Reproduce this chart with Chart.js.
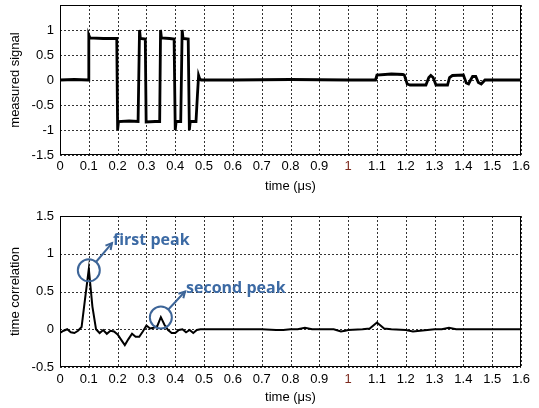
<!DOCTYPE html>
<html><head><meta charset="utf-8">
<script src="https://cdn.jsdelivr.net/npm/chart.js@4"></script>
<style>
html,body{margin:0;padding:0;background:#fff;width:539px;height:408px;overflow:hidden}
canvas{position:absolute;left:0}
#c1{top:0;width:539px;height:200px}
#c2{top:200px;width:539px;height:208px}
</style></head><body>
<canvas id="c1" width="539" height="200"></canvas>
<canvas id="c2" width="539" height="208"></canvas>
<script>
// ---------- data ----------
const xTicks = [0,0.1,0.2,0.3,0.4,0.5,0.6,0.7,0.8,0.9,1,1.1,1.2,1.3,1.4,1.5,1.6];
const xTickLabels = ['0','0.1','0.2','0.3','0.4','0.5','0.6','0.7','0.8','0.9','1','1.1','1.2','1.3','1.4','1.5','1.6'];
const yTopTicks = [-1.5,-1,-0.5,0,0.5,1];
const yTopLabels = ['-1.5','-1','-0.5','0','0.5','1'];
const yBotTicks = [-0.5,0,0.5,1,1.5];
const yBotLabels = ['-0.5','0','0.5','1','1.5'];

// measured signal: time (us) / value
const signalTime = [0,0.05,0.099,0.1,0.104,0.15,0.197,0.2,0.203,0.24,0.271,0.276,0.279,0.296,0.299,0.33,0.346,0.349,0.352,0.38,0.396,0.4,0.403,0.419,0.424,0.427,0.445,0.449,0.452,0.472,0.477,0.481,0.485,0.49,0.6,0.8,1.0,1.095,1.1,1.15,1.19,1.195,1.205,1.215,1.27,1.28,1.287,1.295,1.305,1.345,1.352,1.362,1.4,1.41,1.418,1.425,1.432,1.443,1.452,1.462,1.475,1.6];
const signalValue = [0,0.01,0,0.9,0.84,0.83,0.83,-1.0,-0.83,-0.82,-0.83,1.0,0.83,0.82,-0.84,-0.83,-0.83,1.0,0.84,0.83,0.82,-1.0,-0.83,-0.83,1.0,0.83,0.82,-1.0,-0.83,-0.83,-0.3,0.09,0.02,0,0,0.01,0,0,0.1,0.12,0.11,0.1,-0.08,-0.1,-0.1,0.05,0.09,0.05,-0.1,-0.1,0.05,0.09,0.1,-0.06,-0.08,0.0,0.07,0.07,-0.05,-0.08,0.0,0];

// time correlation: time (us) / value
const corrTime = [0,0.0125,0.025,0.0375,0.05,0.0625,0.075,0.0875,0.1,0.1125,0.125,0.1375,0.15,0.1625,0.175,0.1875,0.2,0.2125,0.225,0.2375,0.25,0.2625,0.275,0.2875,0.3,0.3125,0.325,0.3375,0.35,0.3625,0.375,0.3875,0.4,0.4125,0.425,0.4375,0.45,0.4625,0.475,0.4875,0.5,0.6,0.7,0.75,0.775,0.8,0.825,0.85,0.875,0.9,0.95,0.975,0.99,1.0,1.05,1.075,1.1,1.125,1.15,1.2,1.225,1.25,1.3,1.325,1.35,1.375,1.4,1.5,1.6];
const corrValue = [-0.05,-0.02,0.0,-0.04,-0.05,-0.02,0.03,0.42,0.8,0.3,0.0,-0.05,-0.01,-0.06,-0.02,-0.03,-0.07,-0.14,-0.21,-0.13,-0.06,-0.1,-0.1,-0.03,0.05,0.01,0.02,0.04,0.16,0.06,-0.01,-0.05,-0.05,-0.01,0.0,-0.04,-0.01,-0.05,-0.01,0.0,0.0,0.0,0.0,-0.01,-0.01,0.0,0.0,0.02,0.0,0.0,0.0,-0.03,-0.02,-0.01,0.0,0.01,0.09,0.01,0.0,-0.01,-0.03,-0.02,0.0,0.0,0.02,0.0,0.0,0.0,0.0];

// annotations (data coordinates)
const annotCircle = [[0.1,0.78],[0.35,0.155]];
const annotText = ['first peak','second peak'];
const annotTextPos = [[0.184,1.18],[0.4375,0.54]];

// ---------- styling ----------
const FONT = '"Liberation Sans", Arial, Helvetica, sans-serif';
const BLUE_LINE = '#3d6598';
const BLUE_TEXT = '#3c6aa4';

const gridPlugin = {
  id:'dotgrid',
  beforeDatasetsDraw(chart){
    const a = chart.chartArea, ctx = chart.ctx, xs = chart.scales.x, ys = chart.scales.y;
    ctx.save();
    ctx.strokeStyle = '#333';
    ctx.lineWidth = 1;
    ctx.setLineDash([2,2]);
    ctx.beginPath();
    xs.ticks.forEach(t => {
      const p = Math.round(xs.getPixelForValue(t.value)) + 0.5;
      ctx.moveTo(p, a.top); ctx.lineTo(p, a.bottom);
    });
    ys.ticks.forEach(t => {
      const p = Math.round(ys.getPixelForValue(t.value)) + 0.5;
      ctx.moveTo(a.left, p); ctx.lineTo(a.right, p);
    });
    ctx.stroke();
    ctx.restore();
  },
  afterDraw(chart){
    const a = chart.chartArea, ctx = chart.ctx;
    ctx.save();
    ctx.strokeStyle = '#000';
    ctx.lineWidth = 1;
    const l = Math.round(a.left)+0.5, t = Math.round(a.top)+0.5;
    const r = Math.round(a.right)-0.5, b = Math.round(a.bottom)-0.5;
    ctx.strokeRect(l, t, r-l, b-t);
    ctx.restore();
  }
};

function xScale(tickPad, titlePad, h){
  return {
    type:'linear', min:0, max:1.6,
    afterBuildTicks: s => { s.ticks = xTicks.map(v => ({value:v})); },
    afterFit: s => { s.height = h; s.paddingLeft = 0; s.paddingRight = 0; },
    ticks:{ padding:tickPad, autoSkip:false, maxRotation:0, minRotation:0,
      color: c => (c.tick && c.tick.value === 1) ? '#7d2b1f' : '#000',
      font:{family:FONT, size:13},
      callback:(v,i) => xTickLabels[i] },
    grid:{ display:false, drawTicks:false },
    border:{ display:false },
    title:{ display:true, text:'time (μs)', color:'#000', font:{family:FONT, size:13},
      padding:{top:0,bottom:titlePad} }
  };
}
function yScale(min, max, ticks, labels, title){
  return {
    type:'linear', min:min, max:max,
    afterBuildTicks: s => { s.ticks = ticks.map(v => ({value:v})); },
    afterFit: s => { s.width = 60; s.paddingTop = 0; s.paddingBottom = 0; },
    ticks:{ padding:6, autoSkip:false, color:'#000', font:{family:FONT, size:13},
      callback:(v,i) => labels[i] },
    grid:{ display:false, drawTicks:false },
    border:{ display:false },
    title:{ display:true, text:title, color:'#000', font:{family:FONT, size:13},
      padding:{top:8,bottom:0} }
  };
}

function pts(xs, ys){ return xs.map((x,i) => ({x:x, y:ys[i]})); }

new Chart(document.getElementById('c1'), {
  type:'line',
  data:{ datasets:[{ data:pts(signalTime, signalValue), borderColor:'#000', borderWidth:2.8,
    pointRadius:0, tension:0, fill:false }] },
  options:{
    responsive:false, animation:false, devicePixelRatio:1,
    layout:{ padding:{left:0, right:18, top:5, bottom:0} },
    plugins:{ legend:{display:false}, tooltip:{enabled:false} },
    scales:{ x:xScale(4, 6, 45), y:yScale(-1.5, 1.5, yTopTicks, yTopLabels, 'measured signal') }
  },
  plugins:[gridPlugin]
});

const annotPlugin = {
  id:'annot',
  afterDraw(chart){
    const ctx = chart.ctx, xs = chart.scales.x, ys = chart.scales.y;
    ctx.save();
    for (let i = 0; i < annotCircle.length; i++){
      const cx = xs.getPixelForValue(annotCircle[i][0]);
      const cy = ys.getPixelForValue(annotCircle[i][1]);
      const tx = xs.getPixelForValue(annotTextPos[i][0]);
      const ty = ys.getPixelForValue(annotTextPos[i][1]);
      const R = 11;
      ctx.strokeStyle = BLUE_LINE; ctx.lineWidth = 2;
      ctx.beginPath(); ctx.arc(cx, cy, R, 0, Math.PI*2); ctx.stroke();
      // arrow
      const hx = tx - 1, hy = ty + 3;
      const dx = hx - cx, dy = hy - cy, len = Math.hypot(dx, dy);
      const ux = dx/len, uy = dy/len;
      const sx = cx + ux*R, sy = cy + uy*R;
      ctx.beginPath(); ctx.moveTo(sx, sy); ctx.lineTo(hx, hy); ctx.stroke();
      const ah = 7, aw = 0.5;
      const ang = Math.atan2(uy, ux);
      ctx.beginPath();
      ctx.moveTo(hx - ah*Math.cos(ang-aw), hy - ah*Math.sin(ang-aw));
      ctx.lineTo(hx, hy);
      ctx.lineTo(hx - ah*Math.cos(ang+aw), hy - ah*Math.sin(ang+aw));
      ctx.stroke();
      ctx.fillStyle = BLUE_TEXT;
      ctx.font = 'bold 16px "Open Sans", sans-serif';
      ctx.textAlign = 'left'; ctx.textBaseline = 'middle';
      ctx.fillText(annotText[i], tx, ty);
    }
    ctx.restore();
  }
};

new Chart(document.getElementById('c2'), {
  type:'line',
  data:{ datasets:[{ data:pts(corrTime, corrValue), borderColor:'#000', borderWidth:2,
    pointRadius:0, tension:0, fill:false }] },
  options:{
    responsive:false, animation:false, devicePixelRatio:1,
    layout:{ padding:{left:0, right:18, top:16, bottom:0} },
    plugins:{ legend:{display:false}, tooltip:{enabled:false} },
    scales:{ x:xScale(5, 3, 41), y:yScale(-0.5, 1.5, yBotTicks, yBotLabels, 'time correlation') }
  },
  plugins:[gridPlugin, annotPlugin]
});
</script>
</body></html>
